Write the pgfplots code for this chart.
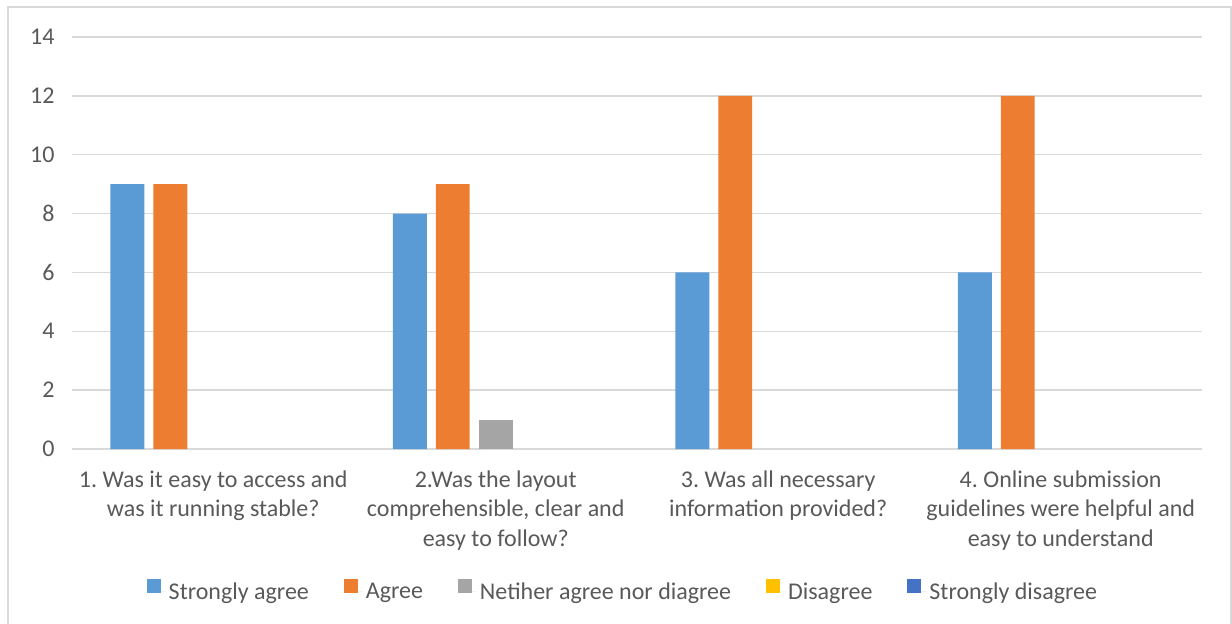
\documentclass[border=0pt]{standalone}
\usepackage{pgfplots}
\pgfplotsset{compat=1.18}
\usepackage{fontspec}
\setmainfont{Carlito}
\frenchspacing
\definecolor{cSA}{HTML}{5B9BD5}
\definecolor{cA}{HTML}{ED7D31}
\definecolor{cN}{HTML}{A5A5A5}
\definecolor{cD}{HTML}{FFC000}
\definecolor{cSD}{HTML}{4472C4}
\definecolor{txt}{HTML}{595959}
\definecolor{grd}{HTML}{D9D9D9}
\begin{document}
\begin{tikzpicture}[x=1pt,y=1pt]
\useasboundingbox (0,0) rectangle (1232,624);
\draw[grd, line width=2pt] (8,0) -- (8,617) -- (1231,617) -- (1231,0);
\begin{axis}[
  at={(72pt,175pt)}, anchor=south west,
  scale only axis, width=1130pt, height=412pt,
  xmin=-0.5, xmax=3.5, ymin=0, ymax=14,
  ytick={0,2,...,14},
  xtick={0,1,2,3},
  xticklabels={{1. Was it easy to access and\\was it running stable?},
               {2.Was the layout\\comprehensible, clear and\\easy to follow?},
               {3. Was all necessary\\information provided?},
               {4. Online submission\\guidelines were helpful and\\easy to understand}},
  axis line style={draw=none},
  major tick length=0pt,
  ymajorgrids,
  grid style={grd, line width=1.3pt},
  /pgf/number format/assume math mode=true,
  ticklabel style={font=\fontsize{24}{29.5}\selectfont, text=txt},
  xticklabel style={align=center, anchor=north, yshift=-18pt},
  yticklabel style={anchor=east, xshift=-14pt},
  ybar, bar width=0.12,
  legend columns=5,
  legend style={draw=none, fill=none, at={(0.488,-0.345)}, anchor=center,
    font=\fontsize{24}{29.5}\selectfont, text=txt,
    /tikz/every even column/.append style={column sep=32pt},
    nodes={inner sep=3pt}},
  legend image code/.code={\fill[#1] (0pt,-1pt) rectangle (14pt,13pt);
                           \path (0pt,0pt) -- (19pt,0pt);},
]
\addplot[fill=cSA, draw=none, bar shift=-0.304] coordinates {(0,9) (1,8) (2,6) (3,6)};
\addlegendentry{Strongly agree}
\addplot[fill=cA, draw=none, bar shift=-0.152] coordinates {(0,9) (1,9) (2,12) (3,12)};
\addlegendentry{Agree}
\addplot[fill=cN, draw=none, bar shift=0] coordinates {(1,1)};
\addlegendentry{Netiher agree nor diagree}
\addlegendimage{fill=cD, draw=none}
\addlegendentry{Disagree}
\addlegendimage{fill=cSD, draw=none}
\addlegendentry{Strongly disagree}
\end{axis}
\end{tikzpicture}
\end{document}
